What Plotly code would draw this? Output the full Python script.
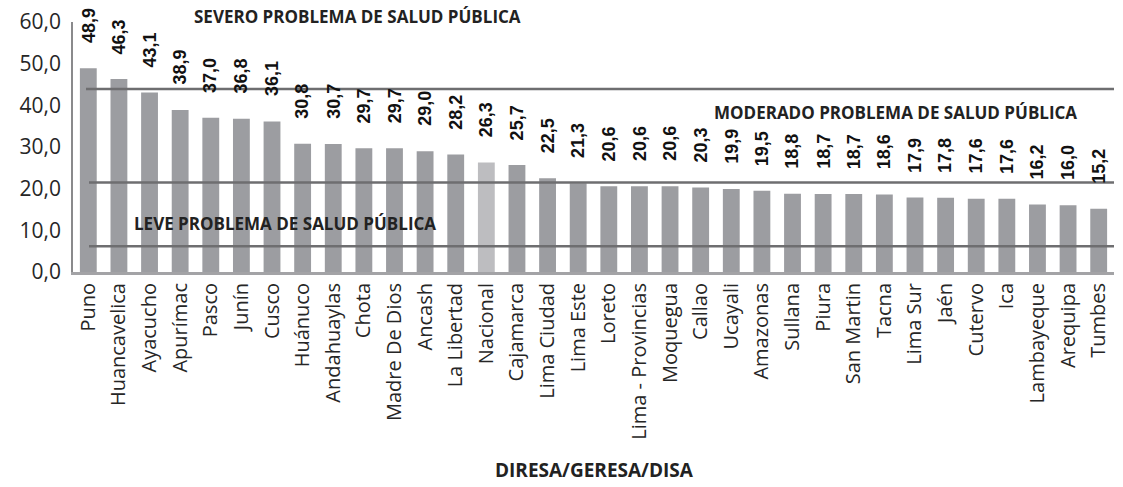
import plotly.graph_objects as go

categories = ["Puno", "Huancavelica", "Ayacucho", "Apurímac", "Pasco", "Junín", "Cusco",
              "Huánuco", "Andahuaylas", "Chota", "Madre De Dios", "Ancash", "La Libertad",
              "Nacional", "Cajamarca", "Lima Ciudad", "Lima Este", "Loreto",
              "Lima - Provincias", "Moquegua", "Callao", "Ucayali", "Amazonas", "Sullana",
              "Piura", "San Martin", "Tacna", "Lima Sur", "Jaén", "Cutervo", "Ica",
              "Lambayeque", "Arequipa", "Tumbes"]
values = [48.9, 46.3, 43.1, 38.9, 37.0, 36.8, 36.1, 30.8, 30.7, 29.7, 29.7, 29.0, 28.2,
          26.3, 25.7, 22.5, 21.3, 20.6, 20.6, 20.6, 20.3, 19.9, 19.5, 18.8, 18.7, 18.7,
          18.6, 17.9, 17.8, 17.6, 17.6, 16.2, 16.0, 15.2]
highlight = "Nacional"
threshold_levels = [43.9, 21.5, 6.2]
zone_labels = ["SEVERO PROBLEMA DE SALUD PÚBLICA", "MODERADO PROBLEMA DE SALUD PÚBLICA",
               "LEVE PROBLEMA DE SALUD PÚBLICA"]
x_title = "DIRESA/GERESA/DISA"
y_ticks = [0, 10, 20, 30, 40, 50, 60]

W, H = 1123, 487
ML, MR, MT, MB = 73, 9, 22, 215
pw = W - ML - MR
ph = H - MT - MB

def fmt(v):
    return f"{v:.1f}".replace(".", ",")

def px(xp):
    return (xp - ML) / pw

def py(yp):
    return 1 - (yp - MT) / ph

colors = ["#bdbdc0" if c == highlight else "#9c9da1" for c in categories]

fig = go.Figure()
fig.add_trace(go.Bar(x=categories, y=values, marker=dict(color=colors, line=dict(width=0)),
                     hoverinfo="x+y"))

annotations = []
for c, v in zip(categories, values):
    annotations.append(dict(x=c, y=v, xref="x", yref="y", text="<b>" + fmt(v) + "</b>",
                            showarrow=False, textangle=-90, xanchor="center",
                            yanchor="bottom", yshift=23,
                            font=dict(family="Liberation Sans", size=18, color="#111111")))

zone_pos = [(357, 17), (895, 112), (285, 223)]
for txt, (xp, yp) in zip(zone_labels, zone_pos):
    annotations.append(dict(x=px(xp), y=py(yp), xref="paper", yref="paper",
                            text="<b>" + txt + "</b>", showarrow=False,
                            xanchor="center", yanchor="middle",
                            font=dict(family="Open Sans", size=17, color="#222222")))
annotations.append(dict(x=px(594), y=py(470), xref="paper", yref="paper",
                        text="<b>" + x_title + "</b>", showarrow=False,
                        xanchor="center", yanchor="middle",
                        font=dict(family="Open Sans", size=19, color="#222222")))

shapes = []
starts = [86, 89, 89]
for lvl, xs in zip(threshold_levels, starts):
    shapes.append(dict(type="line", xref="paper", yref="y", x0=px(xs), x1=1.0, y0=lvl, y1=lvl,
                       line=dict(color="#6e6e70", width=2.5), layer="above"))

fig.update_layout(
    width=W, height=H,
    margin=dict(l=ML, r=MR, t=MT, b=MB, autoexpand=False),
    paper_bgcolor="white", plot_bgcolor="white",
    bargap=0.45,
    showlegend=False,
    separators=",.",
    annotations=annotations,
    shapes=shapes,
    xaxis=dict(tickangle=-90, tickfont=dict(family="Open Sans", size=20, color="#262626"),
               showline=True, linecolor="#a3a3a6", linewidth=3, ticks="", showgrid=False,
               automargin=False, fixedrange=True),
    yaxis=dict(range=[0, 60], tickvals=y_ticks, tickformat=".1f",
               tickfont=dict(family="Open Sans", size=21, color="#262626"),
               showline=True, linecolor="#8a8a8c", linewidth=1.5, showgrid=False,
               zeroline=False, ticks="", ticklabelstandoff=6, automargin=False,
               fixedrange=True),
)

fig.write_html("out.html", config={"displayModeBar": False},
               post_script="document.body.style.margin='0';document.body.style.overflow='hidden';")
